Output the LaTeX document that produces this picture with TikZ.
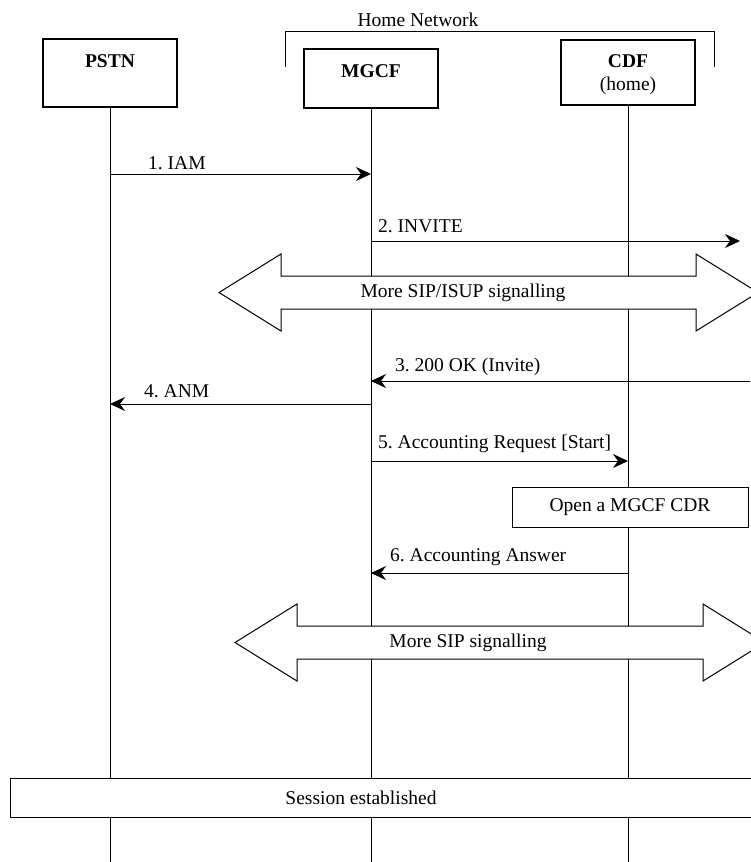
\documentclass[tikz,border=0pt]{standalone}
\usepackage{fontspec}
\setmainfont{Liberation Serif}
\usetikzlibrary{arrows.meta}
\frenchspacing

\tikzset{
  entity/.style={draw, line width=1.1pt, minimum width=134pt, inner sep=0pt},
  life/.style={line width=1pt},
  msg/.style={line width=1pt, -{Stealth[length=15pt,width=14pt,inset=5pt]}},
  lbl/.style={anchor=west, inner sep=0pt},
  bigarrow/.style={draw, line width=1pt, fill=white},
  note/.style={draw, line width=1pt, fill=white, inner sep=0pt},
}

\begin{document}
\begin{tikzpicture}[x=1pt, y=-1pt, font=\fontsize{19.5}{23}\selectfont]
\useasboundingbox (0,0) rectangle (750,862);

% entities
\node[entity, minimum height=68pt] (pstn) at (110,73) {};
\node[entity, minimum height=59pt] (mgcf) at (371,78.5) {};
\node[entity, minimum height=65pt] (cdf) at (628,72.5) {};
\node (pstnlbl) at (110,61) {\textbf{PSTN}};
\node (mgcflbl) at (371,71) {\textbf{MGCF}};
\node[align=center] (cdflbl) at (628,75) {\textbf{CDF}\\(home)};

% home network bracket
\draw[life] (285,67) -- (285,31) -- (714,31) -- (714,67);
\node (home) at (418,20) {Home Network};

% lifelines
\coordinate (pstnend) at (110,862);
\coordinate (mgcfend) at (371,862);
\coordinate (cdfend) at (628,862);
\draw[life] (pstn.south) -- (pstnend);
\draw[life] (mgcf.south) -- (mgcfend);
\draw[life] (cdf.south) -- (cdfend);

% more signalling
\draw[bigarrow] (219,292.5) -- (281,254) -- (281,276) -- (696,276) -- (696,254) -- (758,292.5)
  -- (696,331) -- (696,309) -- (281,309) -- (281,331) -- cycle;
\node (sig1) at (463,292.5) {More SIP/ISUP signalling};

\draw[bigarrow] (235,642.5) -- (297,604) -- (297,626) -- (703,626) -- (703,604) -- (765,642.5)
  -- (703,681) -- (703,659) -- (297,659) -- (297,681) -- cycle;
\node (sig2) at (468,642.5) {More SIP signalling};

% messages
\draw[msg] (pstn |- 0,174) -- (mgcf |- 0,174);
\node[lbl] (m1) at (148,163) {1. IAM};

\coordinate (out2) at (740,241);
\draw[msg] (mgcf |- out2) -- (out2);
\node[lbl] (m2) at (378,226) {2. INVITE};

\coordinate (in3) at (750,381);
\draw[msg] (in3) -- (mgcf |- in3);
\node[lbl] (m3) at (395,367) {3. 200 OK (Invite)};

\draw[msg] (mgcf |- 0,404) -- (pstn |- 0,404);
\node[lbl] (m4) at (144,391) {4. ANM};

\draw[msg] (mgcf |- 0,461) -- (cdf |- 0,461);
\node[lbl] (m5) at (378,444) {5. Accounting Request [Start]};

\node[note, minimum width=236pt, minimum height=40pt] (open) at (630,507) {Open a MGCF CDR};

\draw[msg] (cdf |- 0,573) -- (mgcf |- 0,573);
\node[lbl] (m6) at (390,557) {6. Accounting Answer};

% session
\node[note, minimum width=760pt, minimum height=39pt, anchor=west] (sess) at (10,797.5) {};
\node (sesslbl) at (361,797.5) {Session established};

\end{tikzpicture}
\end{document}
